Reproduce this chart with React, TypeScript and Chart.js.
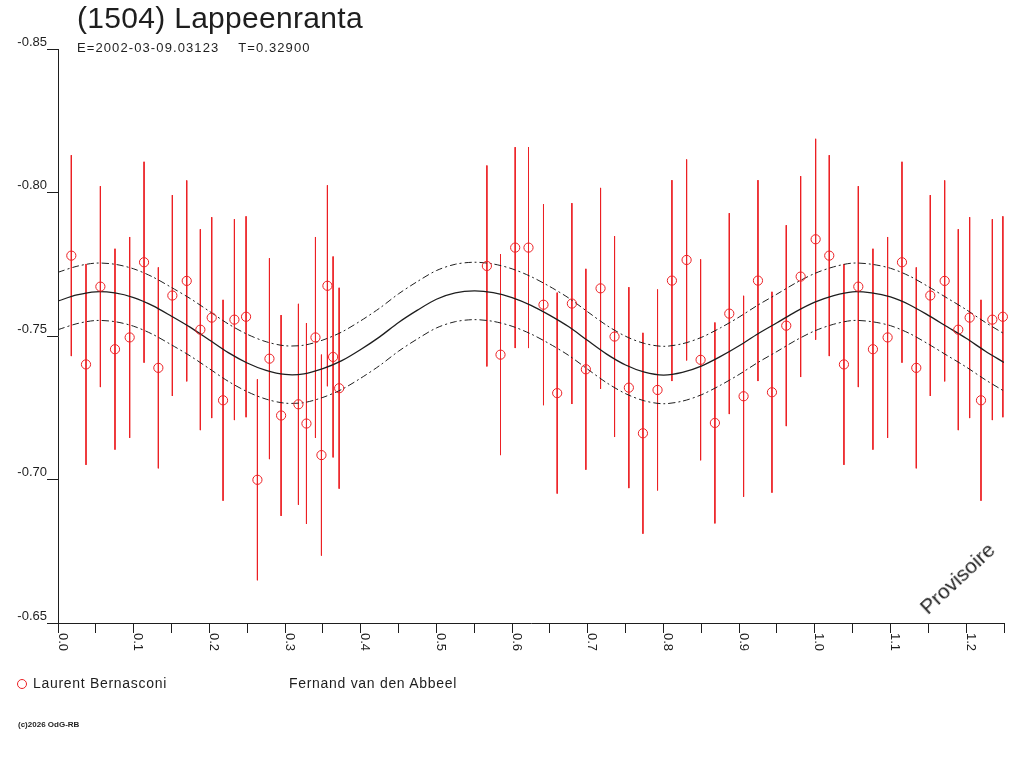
import { useEffect, useRef } from 'react';
import { Chart, registerables, ChartConfiguration, Plugin } from 'chart.js';

Chart.register(...registerables);

const FONT = '"Liberation Sans", Arial, sans-serif';
const INK = '#1e1e1e';
const RED = 'rgb(236, 32, 36)';

// observations (phase, reduced magnitude)
const PHASES = [
  0.0176, 0.037, 0.056, 0.0753, 0.0947, 0.1137, 0.1326, 0.1511, 0.1701, 0.1881,
  0.2031, 0.2181, 0.2331, 0.2485, 0.2635, 0.2794, 0.2948, 0.3177, 0.3283, 0.3402,
  0.3481, 0.356, 0.3635, 0.3715, 0.5667, 0.5847, 0.6041, 0.6217, 0.6415, 0.6596,
  0.679, 0.6975, 0.7169, 0.7354, 0.7543, 0.7729, 0.7922, 0.8112, 0.8306, 0.8491,
  0.868, 0.887, 0.9059, 0.9249, 0.9434, 0.9623, 0.9813, 1.0011, 1.0191, 1.0385,
  1.0575, 1.0768, 1.0962, 1.1152, 1.1341, 1.1526, 1.1716, 1.1896, 1.2046, 1.2196,
  1.2346, 1.2485,
];
const MAGS = [
  -0.778, -0.7401, -0.7672, -0.7454, -0.7495, -0.7757, -0.7389, -0.7641, -0.7692, -0.7522,
  -0.7564, -0.7276, -0.7557, -0.7567, -0.6999, -0.7421, -0.7223, -0.7262, -0.7195, -0.7495,
  -0.7085, -0.7675, -0.7427, -0.7318, -0.7744, -0.7435, -0.7808, -0.7808, -0.7609, -0.7301,
  -0.7613, -0.7384, -0.7666, -0.7498, -0.732, -0.7161, -0.7312, -0.7693, -0.7765, -0.7417,
  -0.7197, -0.7578, -0.729, -0.7693, -0.7304, -0.7536, -0.7707, -0.7837, -0.778, -0.7401,
  -0.7672, -0.7454, -0.7495, -0.7757, -0.7389, -0.7641, -0.7692, -0.7522, -0.7564, -0.7276,
  -0.7557, -0.7567,
];
const MAG_ERR = 0.035;

// fitted light curve, read every 0.025 in phase
const FIT_PHASES = [
  0, 0.025, 0.05, 0.075, 0.1, 0.125, 0.15, 0.175, 0.2, 0.225,
  0.25, 0.275, 0.3, 0.325, 0.35, 0.375, 0.4, 0.425, 0.45, 0.475,
  0.5, 0.525, 0.55, 0.575, 0.6, 0.625, 0.65, 0.675, 0.7, 0.725,
  0.75, 0.775, 0.8, 0.825, 0.85, 0.875, 0.9, 0.925, 0.95, 0.975,
  1.0, 1.025, 1.05, 1.075, 1.1, 1.125, 1.15, 1.175, 1.2, 1.225, 1.25,
];
const FIT_MAGS = [
  -0.7622, -0.7643, -0.7654, -0.765, -0.7634, -0.7606, -0.7569, -0.753, -0.7486, -0.7442,
  -0.7406, -0.738, -0.7366, -0.7368, -0.7386, -0.7414, -0.7453, -0.7497, -0.7547, -0.759,
  -0.7628, -0.765, -0.7657, -0.7651, -0.7634, -0.7607, -0.7572, -0.7532, -0.7484, -0.7437,
  -0.7399, -0.7374, -0.7364, -0.7373, -0.7395, -0.7428, -0.7466, -0.7508, -0.7546, -0.7585,
  -0.7618, -0.7641, -0.7654, -0.765, -0.7636, -0.7609, -0.7572, -0.7532, -0.7492, -0.7448, -0.7408,
];
const FIT_BAND = 0.01;

const X_TICKS = [0, 0.1, 0.2, 0.3, 0.4, 0.5, 0.6, 0.7, 0.8, 0.9, 1.0, 1.1, 1.2];
const Y_TICKS = [-0.85, -0.8, -0.75, -0.7, -0.65];

const TITLE = '(1504) Lappeenranta';
const SUBTITLE = 'E=2002-03-09.03123\u00a0\u00a0\u00a0\u00a0T=0.32900';
const OBSERVERS = ['Laurent Bernasconi', 'Fernand van den Abbeel'];
const CREDIT = '(c)2026 OdG-RB';

// x labels are written top-to-bottom, which the built-in rotation cannot do
const verticalXLabels: Plugin = {
  id: 'verticalXLabels',
  afterDraw(chart) {
    const { ctx } = chart;
    const x = chart.scales.x;
    ctx.save();
    ctx.fillStyle = INK;
    ctx.font = `13px ${FONT}`;
    ctx.textAlign = 'left';
    ctx.textBaseline = 'alphabetic';
    X_TICKS.forEach((v) => {
      ctx.save();
      ctx.translate(x.getPixelForValue(v) + 0.5, x.top + 10);
      ctx.rotate(Math.PI / 2);
      ctx.fillText(v.toFixed(1), 0, 0);
      ctx.restore();
    });
    ctx.restore();
  },
};

function buildConfig(): ChartConfiguration {
  const fit = FIT_PHASES.map((p, i) => ({ x: p, y: FIT_MAGS[i] }));
  const fitHigh = FIT_PHASES.map((p, i) => ({ x: p, y: FIT_MAGS[i] - FIT_BAND }));
  const fitLow = FIT_PHASES.map((p, i) => ({ x: p, y: FIT_MAGS[i] + FIT_BAND }));
  const points = PHASES.map((p, i) => ({ x: p, y: MAGS[i] }));
  const errorBars = PHASES.flatMap((p, i) => [
    { x: p, y: MAGS[i] - MAG_ERR },
    { x: p, y: MAGS[i] + MAG_ERR },
    { x: p, y: null },
  ]);

  return {
    type: 'scatter',
    data: {
      datasets: [
        {
          label: 'Laurent Bernasconi',
          data: points,
          pointStyle: 'circle',
          pointRadius: 4.6,
          borderWidth: 1,
          borderColor: RED,
          backgroundColor: 'rgba(0,0,0,0)',
          clip: false,
        },
        {
          label: 'fit',
          data: fit,
          showLine: true,
          tension: 0.3,
          borderColor: INK,
          borderWidth: 1.3,
          pointRadius: 0,
        },
        {
          label: 'fit + sigma',
          data: fitHigh,
          showLine: true,
          tension: 0.3,
          borderColor: INK,
          borderWidth: 1,
          borderDash: [7, 3, 2, 3],
          pointRadius: 0,
        },
        {
          label: 'fit - sigma',
          data: fitLow,
          showLine: true,
          tension: 0.3,
          borderColor: INK,
          borderWidth: 1,
          borderDash: [7, 3, 2, 3],
          pointRadius: 0,
        },
        {
          label: 'errors',
          data: errorBars,
          showLine: true,
          spanGaps: false,
          borderColor: RED,
          borderWidth: 1,
          pointRadius: 0,
          clip: false,
        },
      ],
    },
    options: {
      responsive: true,
      maintainAspectRatio: false,
      animation: false,
      events: [],
      layout: { padding: { top: 49, right: 20, left: 0, bottom: 0 } },
      plugins: {
        legend: { display: false },
        tooltip: { enabled: false },
      },
      scales: {
        x: {
          type: 'linear',
          min: 0,
          max: 1.25,
          afterFit: (s: any) => {
            s.height = 145;
          },
          border: { display: true, color: INK, width: 1 },
          grid: { drawOnChartArea: false, drawTicks: true, tickLength: 10, color: INK },
          ticks: { stepSize: 0.05, autoSkip: false, display: false },
        },
        y: {
          type: 'linear',
          min: Y_TICKS[0],
          max: Y_TICKS[Y_TICKS.length - 1],
          reverse: true,
          afterFit: (s: any) => {
            s.width = 58;
          },
          afterBuildTicks: (s: any) => {
            s.ticks = Y_TICKS.map((v) => ({ value: v }));
          },
          border: { display: true, color: INK, width: 1 },
          grid: { drawOnChartArea: false, drawTicks: true, tickLength: 11, color: INK },
          ticks: {
            color: INK,
            padding: 0,
            labelOffset: -7,
            font: { family: FONT, size: 13 },
            callback: (v: any) => Number(v).toFixed(2),
          },
        },
      },
    },
    plugins: [verticalXLabels],
  } as ChartConfiguration;
}

export default function App() {
  const canvasRef = useRef<HTMLCanvasElement>(null);

  useEffect(() => {
    if (!canvasRef.current) return;
    const chart = new Chart(canvasRef.current, buildConfig());
    return () => {
      chart.destroy();
    };
  }, []);

  const text = { position: 'absolute' as const, color: INK, whiteSpace: 'nowrap' as const };

  return (
    <div
      style={{
        position: 'absolute',
        left: 0,
        top: 0,
        width: 1024,
        height: 768,
        background: '#fff',
        fontFamily: FONT,
        overflow: 'hidden',
      }}
    >
      <div style={{ position: 'absolute', left: 0, top: 0, width: 1024, height: 768 }}>
        <canvas ref={canvasRef} />
      </div>
      <div style={{ ...text, left: 77, top: 3, fontSize: 30, lineHeight: '30px', letterSpacing: 0.3 }}>
        {TITLE}
      </div>
      <div style={{ ...text, left: 77, top: 41, fontSize: 13, lineHeight: '13px', letterSpacing: 1.1 }}>
        {SUBTITLE}
      </div>
      <span
        style={{
          position: 'absolute',
          left: 17,
          top: 679,
          width: 8,
          height: 8,
          border: `1px solid ${RED}`,
          borderRadius: '50%',
        }}
      />
      <div style={{ ...text, left: 33, top: 676, fontSize: 14, lineHeight: '14px', letterSpacing: 0.7 }}>
        {OBSERVERS[0]}
      </div>
      <div style={{ ...text, left: 289, top: 676, fontSize: 14, lineHeight: '14px', letterSpacing: 0.7 }}>
        {OBSERVERS[1]}
      </div>
      <div style={{ ...text, left: 18, top: 721, fontSize: 8, lineHeight: '8px', fontWeight: 'bold' }}>
        {CREDIT}
      </div>
      <div
        style={{
          ...text,
          left: 957,
          top: 578,
          fontSize: 21,
          lineHeight: '21px',
          transform: 'translate(-50%, -50%) rotate(-43deg)',
        }}
      >
        Provisoire
      </div>
    </div>
  );
}
